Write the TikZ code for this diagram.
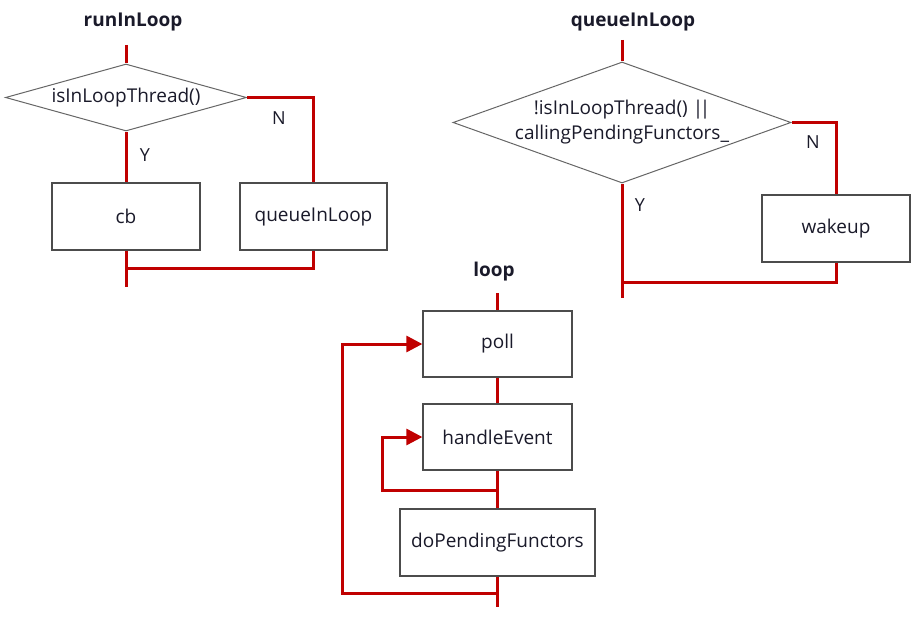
\documentclass[tikz,border=0pt]{standalone}
\usepackage{fontspec}
\setmainfont{Open Sans}
\usetikzlibrary{shapes.geometric,arrows.meta}
\definecolor{lred}{HTML}{C00000}
\definecolor{txt}{HTML}{1A1A2A}
\begin{document}
\begin{tikzpicture}[x=1pt,y=-1pt,
  box/.style={draw=black!70,line width=1.3pt,minimum width=148pt,minimum height=67pt,inner sep=0pt,text=txt,font=\fontsize{19}{22}\selectfont},
  dia/.style={diamond,draw=black!60,line width=1pt,inner sep=0pt,text=txt,align=center,font=\fontsize{19}{25}\selectfont},
  ttl/.style={text=txt,font=\bfseries\fontsize{19}{22}\selectfont},
  lab/.style={text=txt,font=\fontsize{18}{21}\selectfont},
  flow/.style={draw=lred,line width=3pt},
  arr/.style={flow,-{Triangle[length=16pt,width=16pt]}}
]
\useasboundingbox[fill=white] (0,0) rectangle (918,618);

% runInLoop
\node[ttl] (t1) at (133,22) {runInLoop};
\coordinate (s1) at (126,45);
\node[dia,aspect=3.6,minimum width=241pt,minimum height=67pt] (d1) at (126,97.5) {isInLoopThread()};
\node[box] (cb) at (126,216.5) {cb};
\node[box,minimum width=147pt] (q) at (313.5,216.5) {queueInLoop};
\coordinate (j1) at (126,268);
\coordinate (e1) at (126,287);
\draw[flow] (s1) -- (d1.north);
\draw[flow] (d1.south) -- (cb.north);
\draw[flow] (d1.east) -| (q.north);
\draw[flow] (cb.south) -- (e1);
\draw[flow] (q.south) |- (j1);
\node[lab] (n1) at (279,118) {N};
\node[lab] (y1) at (145,155) {Y};

% queueInLoop
\node[ttl] (t2) at (633,22) {queueInLoop};
\coordinate (s2) at (622,40);
\node[dia,aspect=2.8,minimum width=338pt,minimum height=121pt] (d2) at (622,122.5) {!isInLoopThread() |\kern-3.5pt|\\callingPendingFunctors\_};
\node[box] (w) at (836,228.5) {wakeup};
\coordinate (j2) at (622,282);
\coordinate (e2) at (622,298);
\draw[flow] (s2) -- (d2.north);
\draw[flow] (d2.east) -| (w.north);
\draw[flow] (d2.south) -- (e2);
\draw[flow] (w.south) |- (j2);
\node[lab] (n2) at (813,142) {N};
\node[lab] (y2) at (640,205) {Y};

% loop
\node[ttl] (t3) at (494,272) {loop};
\coordinate (s3) at (497.5,293);
\node[box,minimum width=149pt,minimum height=66pt] (poll) at (497.5,344) {poll};
\node[box,minimum width=149pt,minimum height=66pt] (he) at (497.5,437) {handleEvent};
\node[box,minimum width=195pt,minimum height=67pt] (dp) at (497.5,542.5) {doPendingFunctors};
\coordinate (e3) at (497.5,607);
\coordinate (h1) at (497.5,490);
\coordinate (h2) at (382,490);
\coordinate (p1) at (497.5,593);
\coordinate (p2) at (342,593);
\draw[flow] (s3) -- (poll.north);
\draw[flow] (poll.south) -- (he.north);
\draw[flow] (he.south) -- (dp.north);
\draw[flow] (dp.south) -- (e3);
\draw[arr] (h1) -- (h2) |- (he.west);
\draw[arr] (p1) -- (p2) |- (poll.west);
\end{tikzpicture}
\end{document}
